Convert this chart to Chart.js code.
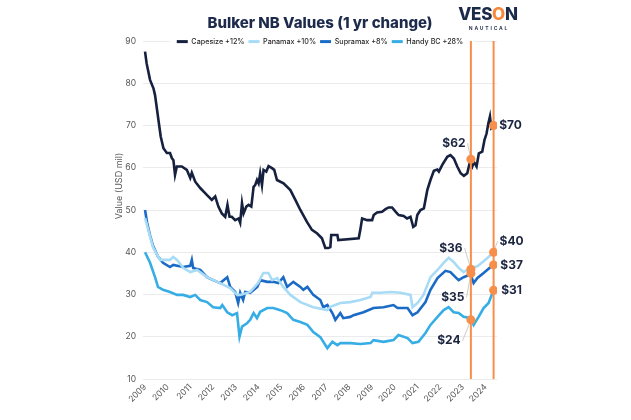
<!DOCTYPE html>
<html>
<head>
<meta charset="utf-8">
<script src="https://cdn.jsdelivr.net/npm/chart.js@4.4.1/dist/chart.umd.min.js"></script>
<style>
html,body{margin:0;padding:0;background:#fff;}
#wrap{position:relative;width:631px;height:420px;}
#logo{position:absolute;left:457px;top:6px;width:62px;text-align:center;font-family:Inter,sans-serif;color:#1c2a4a;}
#logo .brand{font-size:17px;font-weight:800;line-height:17px;letter-spacing:-0.3px;}
#logo .brand span{color:#f58a3c;}
#logo .sub{font-size:5px;font-weight:700;line-height:6px;letter-spacing:1.8px;margin-top:2px;color:#2e3a55;padding-left:2px;}
</style>
</head>
<body>
<div id="wrap">
<canvas id="c" width="631" height="420"></canvas>
<div id="logo"><div class="brand">VES<span>O</span>N</div><div class="sub">NAUTICAL</div></div>
</div>
<script>
// ---- data ----
const chartTitle = 'Bulker NB Values (1 yr change)';
const yAxisTitle = 'Value (USD mil)';
const tickYears = [2009,2010,2011,2012,2013,2014,2015,2016,2017,2018,2019,2020,2021,2022,2023,2024];
const seriesNames = ['Capesize +12%','Panamax +10%','Supramax +8%','Handy BC +28%'];

const capesize = [[2009.00,87.5],[2009.07,84.7],[2009.22,80.8],[2009.37,78.8],[2009.44,77.2],[2009.59,71.3],[2009.69,67.4],[2009.81,64.6],[2009.96,63.5],[2010.10,63.5],[2010.18,62.3],[2010.25,61.8],[2010.32,58.3],[2010.40,60.3],[2010.62,60.3],[2010.84,59.5],[2010.99,57.6],[2011.06,58.8],[2011.21,56.7],[2011.43,55.2],[2011.72,53.6],[2011.94,52.4],[2012.09,53.2],[2012.23,50.8],[2012.38,49.2],[2012.53,48.4],[2012.63,51.2],[2012.72,48.4],[2012.82,48.4],[2012.97,47.6],[2013.12,48.0],[2013.19,47.0],[2013.27,51.6],[2013.34,49.2],[2013.46,50.8],[2013.56,51.2],[2013.68,50.8],[2013.78,55.5],[2013.85,55.9],[2013.93,57.1],[2014.00,56.3],[2014.07,58.7],[2014.15,55.9],[2014.22,59.5],[2014.34,59.1],[2014.44,60.4],[2014.59,59.9],[2014.69,59.5],[2014.81,57.1],[2015.10,56.3],[2015.40,54.7],[2015.62,52.4],[2015.84,50.0],[2016.13,47.2],[2016.35,45.3],[2016.57,44.5],[2016.79,43.3],[2016.94,41.0],[2017.07,41.0],[2017.16,41.2],[2017.20,44.1],[2017.47,44.1],[2017.51,42.9],[2018.41,43.3],[2018.48,45.3],[2018.56,48.0],[2018.78,47.6],[2019.00,47.6],[2019.07,48.8],[2019.22,49.4],[2019.44,49.6],[2019.59,50.2],[2019.73,50.6],[2019.88,50.6],[2020.03,49.6],[2020.17,48.8],[2020.39,48.6],[2020.54,48.0],[2020.69,48.4],[2020.81,46.0],[2020.91,46.4],[2020.99,48.8],[2021.13,50.0],[2021.28,50.4],[2021.43,54.7],[2021.57,57.1],[2021.72,59.3],[2021.87,59.6],[2021.94,59.1],[2022.09,60.7],[2022.31,62.6],[2022.45,63.0],[2022.60,62.2],[2022.75,60.3],[2022.90,58.7],[2023.04,58.1],[2023.19,58.7],[2023.31,61.4],[2023.41,60.3],[2023.48,61.4],[2023.60,60.3],[2023.70,63.4],[2023.85,63.8],[2023.95,66.6],[2024.04,68.1],[2024.12,70.5],[2024.19,72.1],[2024.25,69.3],[2024.35,69.7]];

const panamax = [[2009.00,48.1],[2009.35,41.2],[2009.66,38.2],[2010.10,38.2],[2010.24,38.9],[2010.41,38.2],[2010.68,36.3],[2010.99,35.3],[2011.29,35.8],[2011.73,34.1],[2012.31,32.7],[2012.75,31.5],[2013.06,29.9],[2013.19,29.9],[2013.63,30.6],[2013.98,32.7],[2014.21,35.1],[2014.43,35.1],[2014.60,33.4],[2014.82,33.9],[2015.09,31.8],[2015.40,29.9],[2015.84,28.2],[2016.41,27.0],[2017.03,26.3],[2017.16,27.1],[2017.60,28.0],[2018.04,28.2],[2018.48,28.7],[2018.93,29.4],[2019.01,30.4],[2019.37,30.4],[2019.81,30.6],[2020.25,30.4],[2020.69,29.9],[2020.78,27.0],[2021.00,28.0],[2021.26,29.9],[2021.57,34.1],[2021.88,35.8],[2022.15,37.5],[2022.37,38.7],[2022.59,37.7],[2022.81,36.3],[2023.03,35.3],[2023.34,36.3],[2023.64,36.7],[2023.87,37.7],[2024.09,38.7],[2024.35,40.0]];

const supramax = [[2009.00,50.0],[2009.09,47.0],[2009.22,44.0],[2009.35,41.5],[2009.44,40.5],[2009.57,39.0],[2009.79,37.5],[2010.10,36.5],[2010.24,37.0],[2010.68,36.5],[2010.99,36.8],[2011.06,38.2],[2011.12,36.3],[2011.43,35.8],[2011.73,34.1],[2012.00,33.4],[2012.31,32.7],[2012.62,34.1],[2012.75,31.8],[2012.97,30.6],[2013.10,28.0],[2013.19,30.4],[2013.32,28.7],[2013.41,30.6],[2013.63,30.4],[2013.94,31.8],[2014.07,33.4],[2014.38,33.0],[2014.65,33.0],[2014.87,32.7],[2015.09,34.1],[2015.26,31.8],[2015.53,33.0],[2015.84,31.8],[2015.97,31.1],[2016.15,31.8],[2016.41,29.9],[2016.72,28.7],[2016.85,27.0],[2017.03,27.5],[2017.25,25.6],[2017.38,24.0],[2017.60,25.6],[2017.73,24.4],[2018.04,24.7],[2018.18,25.1],[2018.62,25.8],[2019.06,26.8],[2019.50,27.0],[2019.94,27.5],[2020.12,26.8],[2020.56,26.8],[2020.78,25.1],[2021.00,25.8],[2021.35,28.2],[2021.57,31.1],[2021.88,33.9],[2022.23,35.6],[2022.45,35.3],[2022.67,34.1],[2022.81,33.4],[2023.03,34.1],[2023.34,34.8],[2023.47,32.7],[2023.64,33.9],[2023.91,35.1],[2024.22,36.5],[2024.35,37.2]];

const handyBC = [[2009.00,40.0],[2009.22,37.5],[2009.44,34.1],[2009.57,31.8],[2009.79,31.1],[2010.10,30.6],[2010.41,29.9],[2010.68,29.9],[2010.99,29.4],[2011.21,29.9],[2011.43,28.7],[2011.73,28.2],[2012.00,27.0],[2012.31,26.8],[2012.40,27.5],[2012.62,25.8],[2012.84,25.1],[2013.05,25.6],[2013.16,20.0],[2013.27,22.4],[2013.49,23.2],[2013.63,24.0],[2013.78,25.6],[2013.93,24.4],[2014.07,25.9],[2014.38,26.8],[2014.65,26.8],[2014.96,26.3],[2015.26,25.6],[2015.53,24.0],[2015.84,23.5],[2016.15,22.8],[2016.41,21.1],[2016.72,19.9],[2017.03,17.3],[2017.25,18.8],[2017.47,18.0],[2017.60,18.5],[2018.04,18.5],[2018.48,18.3],[2018.93,18.5],[2019.06,19.2],[2019.50,18.8],[2019.94,19.2],[2020.16,20.4],[2020.56,19.7],[2020.78,18.5],[2021.04,18.8],[2021.35,20.9],[2021.57,22.8],[2021.88,24.7],[2022.15,26.3],[2022.37,27.0],[2022.59,25.8],[2022.81,25.6],[2023.03,24.7],[2023.34,24.4],[2023.47,22.8],[2023.69,24.7],[2023.91,26.8],[2024.13,28.0],[2024.35,31.1]];

// one-year comparison markers
const markerYears = [2023.35, 2024.35];
const markerValues = [[62, 70], [36, 40], [35, 37], [24, 31]];

// ---- styles ----
const Y_MIN = 10, Y_MAX = 90;
const FONT = 'Inter, sans-serif';
const colors = ['#15213f', '#a8dbf5', '#1b6bc6', '#37ade6'];
const orange = '#f78f4a';
const labelOffsets = [[[-17,-16],[17,0]], [[-20,-21],[18,-11]], [[-18,24],[18,0]], [[-22,21],[18,0]]];

const series = [capesize, panamax, supramax, handyBC];
const datasets = series.map((s, i) => ({
  label: seriesNames[i],
  data: s.map(([x, y]) => ({x, y})),
  borderColor: colors[i], backgroundColor: colors[i],
  borderWidth: 2.6, pointRadius: 0, tension: 0, order: i
}));
markerYears.forEach(yr => datasets.push({
  label: 'marker', data: [{x: yr, y: Y_MIN}, {x: yr, y: Y_MAX}],
  borderColor: orange, backgroundColor: orange, borderWidth: 2, pointRadius: 0, order: -1
}));
const markerPts = [];
markerValues.forEach(vals => vals.forEach((v, j) => markerPts.push({x: markerYears[j], y: v})));
datasets.push({
  label: 'points', data: markerPts, showLine: false,
  pointRadius: 4.5, pointBackgroundColor: orange, pointBorderWidth: 0, borderColor: orange, backgroundColor: orange, order: -2
});

// legend overlaps the top of the plot, on a white band that hides the 90 gridline
const legendFit = {
  id: 'legendFit',
  beforeLayout(chart) {
    const lg = chart.legend;
    if (lg && !lg._patched) {
      const f = lg.fit;
      lg.fit = function () { f.call(this); this.height = 7; };
      const d = lg.draw;
      lg.draw = function (ca) {
        const h = this.height, b = this.bottom;
        this.height = 24; this.bottom = this.top + 24;
        d.call(this, ca);
        this.height = h; this.bottom = b;
      };
      lg._patched = true;
    }
  },
  beforeDatasetsDraw(chart) {
    const lg = chart.legend;
    if (!lg || !lg.lineWidths) return;
    const pad = lg.options.labels.padding;
    const w = lg.lineWidths[0];
    const x0 = (lg.left + pad + lg.right - w) / 2;
    const ctx = chart.ctx;
    ctx.save();
    ctx.fillStyle = '#fff';
    ctx.fillRect(x0 - 7, lg.top + pad - 3, w + 14, 13);
    ctx.restore();
    lg.draw(chart.chartArea);
  }
};

function eachLabel(chart, fn) {
  const {x, y} = chart.scales;
  markerValues.forEach((vals, i) => vals.forEach((v, j) => {
    const px = x.getPixelForValue(markerYears[j]), py = y.getPixelForValue(v);
    const [dx, dy] = labelOffsets[i][j];
    fn('$' + v, px, py, px + dx, py + dy, dx, dy);
  }));
}

const valueLabels = {
  id: 'valueLabels',
  beforeDatasetsDraw(chart) {
    const ctx = chart.ctx;
    ctx.save();
    ctx.font = 'bold 12px ' + FONT;
    ctx.strokeStyle = '#cccccc'; ctx.lineWidth = 1;
    eachLabel(chart, (t, px, py, lx, ly, dx, dy) => {
      if (Math.abs(dy) > 5) {
        const w = ctx.measureText(t).width;
        const sx = dx < 0 ? lx + w / 2 + 2 : lx - w / 2 - 2;
        ctx.beginPath(); ctx.moveTo(sx, ly); ctx.lineTo(px, py); ctx.stroke();
      }
    });
    ctx.restore();
  },
  afterDatasetsDraw(chart) {
    const ctx = chart.ctx;
    ctx.save();
    ctx.font = 'bold 12px ' + FONT;
    ctx.fillStyle = '#1c2540';
    ctx.textAlign = 'center'; ctx.textBaseline = 'middle';
    eachLabel(chart, (t, px, py, lx, ly) => ctx.fillText(t, lx, ly));
    ctx.restore();
  },
  afterDraw(chart) {
    const ctx = chart.ctx;
    ctx.save();
    ctx.translate(119, 186);
    ctx.rotate(-Math.PI / 2);
    ctx.font = '9px ' + FONT;
    ctx.fillStyle = '#5a5a5a';
    ctx.textAlign = 'center'; ctx.textBaseline = 'middle';
    ctx.fillText(yAxisTitle, 0, 0);
    ctx.restore();
  }
};

new Chart(document.getElementById('c'), {
  type: 'line',
  data: {datasets},
  plugins: [legendFit, valueLabels],
  options: {
    responsive: false,
    animation: false,
    layout: {padding: {left: 108, right: 134, top: 0, bottom: 0}},
    plugins: {
      tooltip: {enabled: false},
      title: {
        display: true, text: chartTitle, fullSize: false, color: '#1d2a4c',
        font: {family: FONT, size: 15, weight: '800'}, padding: {top: 14.5, bottom: 1.5}
      },
      legend: {
        display: true, position: 'top', fullSize: false,
        labels: {
          boxWidth: 11, boxHeight: 3, padding: 4, color: '#2b2b2b',
          font: {family: FONT, size: 7.2, weight: '500'},
          generateLabels(chart) {
            return Chart.defaults.plugins.legend.labels.generateLabels(chart)
              .filter(it => it.datasetIndex < 4)
              .map(it => Object.assign(it, {fillStyle: colors[it.datasetIndex], lineWidth: 0}));
          }
        }
      }
    },
    scales: {
      x: {
        type: 'linear', min: 2008.91, max: 2024.5,
        afterBuildTicks: s => { s.ticks = tickYears.map(v => ({value: v})); },
        afterFit: s => { s.height = 41; },
        ticks: {autoSkip: false, minRotation: 45, maxRotation: 45, padding: 3, color: '#555',
          font: {family: FONT, size: 8.5}, callback: v => String(v)},
        grid: {display: false, drawTicks: false},
        border: {display: false}
      },
      y: {
        min: Y_MIN, max: Y_MAX,
        afterFit: s => { s.width = 35; },
        ticks: {stepSize: 10, padding: 7, color: '#555', font: {family: FONT, size: 8.5}},
        grid: {color: '#ebebeb', drawTicks: false},
        border: {display: false}
      }
    }
  }
});
</script>
</body>
</html>
